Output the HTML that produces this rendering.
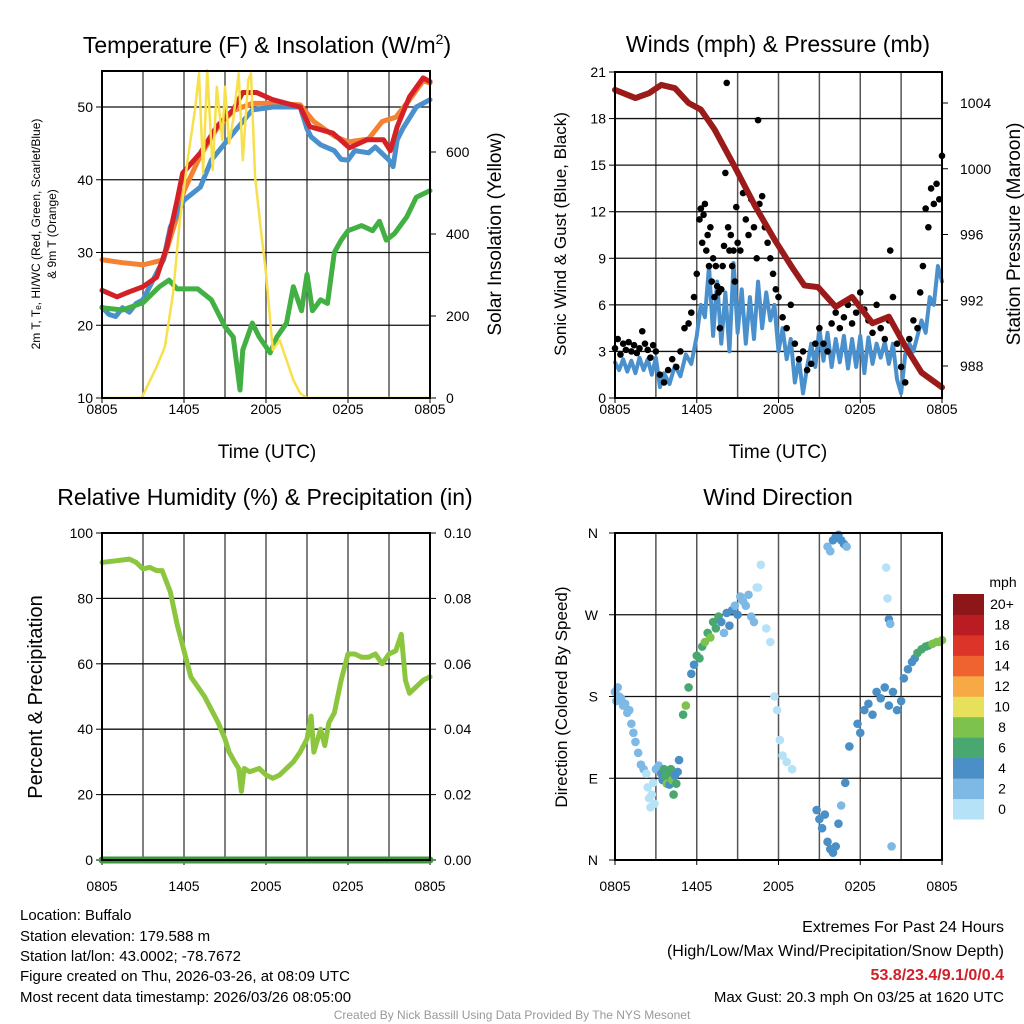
<!DOCTYPE html>
<html><head><meta charset="utf-8"><style>
body{margin:0;background:#fff;width:1024px;height:1024px;overflow:hidden;font-family:"Liberation Sans",sans-serif}
svg{position:absolute;left:0;top:0}
.t{position:absolute;font-size:15px;color:#000;white-space:nowrap}
</style></head><body>
<svg id="s" width="1024" height="1024" xmlns="http://www.w3.org/2000/svg" font-family="Liberation Sans, sans-serif"></svg>
<div class="t" style="left:20px;top:907px">Location: Buffalo</div>
<div class="t" style="left:20px;top:928px">Station elevation: 179.588 m</div>
<div class="t" style="left:20px;top:948px">Station lat/lon: 43.0002; -78.7672</div>
<div class="t" style="left:20px;top:968px">Figure created on Thu, 2026-03-26, at 08:09 UTC</div>
<div class="t" style="left:20px;top:989px">Most recent data timestamp: 2026/03/26 08:05:00</div>
<div class="t" style="right:20px;top:919px;font-size:16px">Extremes For Past 24 Hours</div>
<div class="t" style="right:20px;top:943px;font-size:16px">(High/Low/Max Wind/Precipitation/Snow Depth)</div>
<div class="t" style="right:20px;top:967px;font-size:16px;color:#d0202a;font-weight:bold">53.8/23.4/9.1/0/0.4</div>
<div class="t" style="right:20px;top:989px">Max Gust: 20.3 mph On 03/25 at 1620 UTC</div>
<div class="t" style="left:0;width:1024px;text-align:center;top:1008px;font-size:12px;color:#999">Created By Nick Bassill Using Data Provided By The NYS Mesonet</div>
<script>
// ---- data (hours since 0805 UTC) ----
const timeTicks=["0805","1405","2005","0205","0805"];
const tempT=[0,1.1,2,3,4,4.75,5.5,5.9,7.2,8.4,9.6,10.3,11.3,12.5,14.5,15.2,16.9,18.1,19.4,20.6,21.1,21.6,22.5,23.5,24];
const tempV=[24.8,23.9,24.6,25.3,26.6,30.8,37.2,40.9,43.7,47.3,49.6,52,52,51,50,47.3,46.4,44.4,45.5,45.5,44,47.3,51.4,54,53.5];
const t9T=[0,1.5,3,4.5,5.5,6,7.2,8.4,9.6,11,12.5,14.5,15.5,17,18,19.5,20.5,21.5,22.5,23.5,24];
const t9V=[29,28.6,28.3,29,35,38.5,43.3,47,49.5,50.5,50.5,50.3,48,46,45.2,45.6,48,48.6,51,53.6,53.3];
const hiT=[0,0.5,1,1.5,2,2.5,3,4,4.5,5,6,7.2,8,9.6,11,12.5,14.5,15,15.3,16,17,17.5,18,18.5,19.5,20,21,21.3,21.6,22,23,24];
const hiV=[22.5,21.5,21.2,22.4,21.8,23,23.5,27.2,29,33.5,37.2,39,42.7,46.4,49.6,50,50,47,45.9,44.8,44,42.8,42.7,44,43.7,44.5,42.7,41.8,45.5,47,50,51];
const tdT=[0,1.5,3,4.2,4.9,5.5,7,8,9,9.6,10.1,10.3,11,11.5,12.3,12.8,13.5,14,14.6,15,15.4,16,16.5,17,17.5,18,19,19.8,20.3,20.8,21.4,22.3,23,24];
const tdV=[22.4,22.1,23.1,25.3,26.2,25,25,23.5,19.8,18.4,11.1,16.6,20.3,18.4,16.2,18.4,20.3,25.3,22,27,22,23.5,23,30,31.7,33,33.7,33,34.3,31.7,32.6,34.9,37.6,38.5];
const solT=[0,2.9,4,4.6,5.2,5.7,6.3,6.8,7.1,7.4,7.7,8.1,8.4,8.8,9,9.3,9.6,10,10.3,10.7,10.9,11.2,11.6,12,12.5,13,13.5,14,14.5,15,24];
const solV=[0,0,76,125,255,434,589,702,792,548,800,556,759,629,759,621,678,792,580,776,792,540,418,304,117,141,93,44,12,0,0];
const presT=[0,1.5,2.5,3.4,4.4,5.4,6.3,7.3,8.8,10.3,11.7,13,13.9,14.9,16.2,17.4,18.9,20.1,21.3,22.5,24];
const presV=[1004.8,1004.3,1004.6,1005.1,1004.9,1004,1003.6,1002.4,1000.1,997.7,995.7,994,992.9,992.8,991.6,992.2,990.6,991,989.2,987.6,986.7];
const windT=[0,0.3,0.6,0.9,1.2,1.5,1.8,2.1,2.4,2.7,3,3.3,3.6,4,4.4,4.8,5.2,5.6,6,6.3,6.6,6.9,7.2,7.5,7.8,8.1,8.4,8.7,9,9.3,9.6,9.9,10.2,10.5,10.8,11.1,11.4,11.7,12,12.3,12.6,12.9,13.2,13.5,13.8,14.1,14.4,14.7,15,15.3,15.6,15.9,16.2,16.5,16.8,17.1,17.4,17.7,18,18.3,18.6,18.9,19.2,19.5,19.8,20.1,20.4,20.7,21,21.3,21.6,21.9,22.2,22.5,22.8,23.1,23.4,23.7,24];
const windV=[2.3,1.8,2.5,1.7,2.4,1.6,2.6,1.8,2.5,1.5,2.6,0.7,1.6,0.9,2.1,1.4,2.8,2.2,4,6,5.2,8.5,4,7.5,3.5,6.8,3,8.7,4.2,7,3.5,6.5,3.8,7.5,4.5,6.8,5,6,3,4.5,2.5,3.8,1,2.5,0.3,2,3.5,2,4.5,2.4,4.2,2,3.8,2.3,4,1.9,3.8,2,4,1.6,3.9,2.2,3.5,2.6,3.6,2.2,3.5,1.2,0.3,2.8,3.5,3,4,5,4.2,6.5,6,8.5,7.5];
const gustT=[
0,0.2,0.4,0.6,0.8,1,1.2,1.4,1.6,1.8,
2,2.2,2.4,2.6,2.8,3,3.3,3.6,3.9,4.2,
4.5,4.8,5.1,5.4,5.6,5.8,6,6.2,6.3,6.4,
6.5,6.6,6.7,6.8,6.9,7,7.1,7.2,7.3,7.4,
7.5,7.6,7.7,7.8,7.9,8,8.1,8.2,8.3,8.4,
8.5,8.6,8.7,8.8,8.9,9,9.2,9.4,9.6,9.8,
10,10.2,10.4,10.5,10.6,10.8,11,11.2,11.4,11.6,
11.8,12,12.3,12.6,12.9,13.2,13.5,13.8,14.1,14.4,
14.7,15,15.3,15.6,15.9,16.2,16.5,16.8,17.1,17.4,
17.7,18,18.3,18.6,18.9,19.2,19.5,19.8,20.1,20.2,
20.4,20.7,21,21.3,21.6,21.9,22.2,22.4,22.6,22.8,
23,23.2,23.4,23.6,23.8,24];
const gustV=[
3.2,3.8,2.8,3.5,3.1,3.6,3,3.4,2.9,3.2,
4.3,3.5,3.1,2.6,3.4,3,1.5,1,1.8,2.5,
2,3,4.5,4.8,5.5,6.5,8,11.5,12.2,10,
11.8,12.5,9.5,10.5,8.5,11,7.5,9,6.5,8.5,
7.2,6.8,4.5,7,8.5,9.8,14.5,20.3,11,9.5,
10.5,8.5,9.5,7.5,12.3,10,9.5,13.2,11.5,10.5,
12.8,11,9,17.9,12.5,13,11,10,9,8,
7,6.5,5.2,4.5,6,3.5,2.5,3,1.8,2.2,
3.5,4.5,3.5,3,4.8,5.5,4.5,5.2,6,4.8,
5.5,6.8,5.7,5,4.2,6,4.5,3.8,5,9.5,
6.5,3.5,2,1,3.8,5,4.5,6.8,8.5,12.2,
11,13.5,12.5,13.8,12.8,15.6];
const rhT=[0,1,2,2.5,3,3.5,4,4.4,5,5.5,6,6.5,7,7.5,8,8.5,9,9.3,9.7,10,10.2,10.4,10.8,11.5,12,12.5,13,13.5,14,14.5,15,15.3,15.5,16,16.3,16.6,17,17.5,18,18.5,19,19.5,20,20.5,21,21.5,21.9,22.2,22.5,23,23.5,24];
const rhV=[91,91.5,92,91,89,89.5,88.5,88.5,82,72,64,56,53,50,46,42,37,33,30,28,21,28,27,28,26,25,26,28,30,33,37,44,33,40,35,42,45,55,63,63,62,62,63,60,63,64,69,55,51,53,55,56];
const dirT=[
0,0.1,0.2,0.3,0.45,0.6,0.75,0.9,1.05,1.2,1.35,1.5,
1.7,1.9,2.1,2.3,2.4,2.5,2.6,2.7,2.8,2.9,3.0,3.2,
3.4,3.5,3.6,3.7,3.8,3.9,4.0,4.1,4.2,4.3,4.4,4.5,4.6,4.7,
5.0,5.2,5.4,5.6,5.8,6.0,6.2,6.4,6.6,6.8,7.0,7.2,7.4,7.6,
7.8,8.0,8.2,8.4,8.6,8.8,9.0,9.2,9.4,9.6,9.8,10.0,10.2,10.4,
10.5,10.7,11.1,11.4,11.7,11.9,12.1,12.3,12.6,13.0,
14.8,15.0,15.2,15.4,15.6,15.8,16.0,16.2,16.4,16.6,16.9,17.2,
15.6,15.8,16.0,16.2,16.4,16.6,16.8,17.0,
17.8,18.0,18.3,18.6,18.9,19.2,19.5,19.8,20.1,20.4,20.7,21.0,
19.9,20.0,20.1,20.2,20.3,
21.2,21.5,21.8,22.0,22.2,22.5,22.8,23.0,23.3,23.6,23.8,24.0];
const dirD=[
185,175,190,180,178,170,172,162,165,150,140,130,
118,105,100,95,80,68,58,72,85,62,100,104,
95,88,100,92,84,96,83,100,88,72,93,84,97,110,
160,170,190,205,215,225,222,235,240,250,245,262,255,268,
262,250,272,258,275,280,270,290,285,280,292,268,262,300,
300,325,255,240,180,165,132,115,108,100,
55,45,35,50,20,12,8,15,40,60,85,125,
345,340,352,356,358,352,348,345,
150,140,165,172,160,185,178,190,170,185,165,175,
322,288,265,260,15,
200,210,218,222,228,232,235,236,238,240,240,242];
const dirS=[
3,2,3,2,2,3,2,3,2,3,2,3,
2,3,2,1,1,1,1,1,1,1,2,2,
5,4,6,7,8,7,5,6,9,7,5,6,5,4,
7,8,6,5,4,7,7,6,8,7,9,7,6,7,
5,3,5,4,5,3,5,3,3,3,2,3,2,1,
1,1,1,1,1,1,1,1,1,1,
4,5,4,5,5,5,4,5,5,3,5,4,
3,3,4,5,5,5,4,3,
5,4,5,5,5,4,5,5,5,4,5,4,
1,1,4,3,2,
4,5,5,5,6,6,7,7,8,8,8,8];
const cbLabels=["0","2","4","6","8","10","12","14","16","18","20+"];
const cbColors=["#b5e2f7","#7db9e4","#4a8fc6","#49a870","#7cc24c","#e6e05a","#f7a946","#ee6330","#dc3429","#b91c23","#8d1619"];

const NS="http://www.w3.org/2000/svg",S=document.getElementById('s');
function el(t,a,p){const e=document.createElementNS(NS,t);for(const k in a)e.setAttribute(k,a[k]);(p||S).appendChild(e);return e;}
function txt(x,y,s,size,anchor,rot,nm){const e=el('text',{x:x,y:y,'font-size':size,'text-anchor':anchor||'middle',fill:'#000'});if(rot)e.setAttribute('transform','rotate(-90 '+x+' '+y+')');e.textContent=s;


return e;}
function lin(a,b,c,d){return (v)=>c+(v-a)/(b-a)*(d-c);}
function grid(P,off){
  const xs=lin(0,24,P.x0,P.x1);
  for(let h=3;h<24;h+=3){const g=el('line',{x1:xs(h),x2:xs(h),y1:P.y0,y2:P.y1,stroke:'#555','stroke-width':1.5});
  
  }
  for(let i=0;i<timeTicks.length;i++){const x=xs(i*6);el('line',{x1:x,x2:x,y1:P.y1,y2:P.y1+5,stroke:'#000'});txt(x,P.y1+off,timeTicks[i],14,'middle',0,'x-tick-label');}
}
function frame(P){const r=el('rect',{x:P.x0,y:P.y0,width:P.x1-P.x0,height:P.y1-P.y0,fill:'none',stroke:'#000','stroke-width':2});

}
function hline(P,y){const g=el('line',{x1:P.x0,x2:P.x1,y1:y,y2:y,stroke:'#111','stroke-width':1.3});

}
function poly(T,V,xs,ys,col,w,nm){const p=el('polyline',{points:T.map((t,i)=>xs(t)+','+ys(V[i])).join(' '),fill:'none',stroke:col,'stroke-width':w,'stroke-linejoin':'round','stroke-linecap':'round'});

}

// Panel 1
let P={x0:102,x1:430,y0:71,y1:398};
let xs=lin(0,24,P.x0,P.x1),ys=lin(10,55,P.y1,P.y1-45*7.275),ys2=lin(0,800,P.y1,P.y1-800*0.41);
grid(P,16);
[10,20,30,40,50].forEach(v=>{if(v>10)hline(P,ys(v));el('line',{x1:P.x0-6,x2:P.x0,y1:ys(v),y2:ys(v),stroke:'#000'});txt(P.x0-9,ys(v)+5,String(v),14,'end',0,'y-tick-label');});
[0,200,400,600].forEach(v=>{el('line',{x1:P.x1,x2:P.x1+6,y1:ys2(v),y2:ys2(v),stroke:'#000'});txt(P.x1+16,ys2(v)+5,String(v),14,'start',0,'y2-tick-label');});
poly(t9T,t9V,xs,ys,'#f58232',5,'orange-9m-temp-line');
poly(hiT,hiV,xs,ys,'#4a90cc',5,'blue-hi-wc-line');
poly(tempT,tempV,xs,ys,'#d42027',5,'red-2m-temp-line');
poly(tdT,tdV,xs,ys,'#43b043',5,'green-dewpoint-line');
poly(solT,solV,xs,ys2,'#f7e04a',2.5,'yellow-insolation-line');
frame(P);
const t1=txt(267,53,'Temperature (F) & Insolation (W/m',23,'middle',0,'temp-panel-title');const sp=el('tspan',{dy:-9,'font-size':14},t1);sp.textContent='2';const sp2=el('tspan',{dy:9},t1);sp2.textContent=')';
txt(267,458,'Time (UTC)',19,'middle',0,'x-axis-title');
txt(40,234,'2m T, T\u2091, HI/WC (Red, Green, Scarlet/Blue)',12,'middle',1,'temp-y-axis-title');
txt(56,234,'& 9m T (Orange)',12,'middle',1,'temp-y-axis-title-2');
txt(501,234,'Solar Insolation (Yellow)',19,'middle',1,'insolation-y-axis-title');

// Panel 2
P={x0:615,x1:942,y0:72,y1:398};
xs=lin(0,24,P.x0,P.x1);ys=lin(0,21,P.y1,P.y0);ys2=lin(988,1004,366,103);
grid(P,16);
for(let v=0;v<=21;v+=3){if(v>0&&v<21)hline(P,ys(v));el('line',{x1:P.x0-6,x2:P.x0,y1:ys(v),y2:ys(v),stroke:'#000'});txt(P.x0-9,ys(v)+5,String(v),14,'end',0,'wind-tick-label');}
[988,992,996,1000,1004].forEach(v=>{el('line',{x1:P.x1,x2:P.x1+6,y1:ys2(v),y2:ys2(v),stroke:'#000'});txt(P.x1+18,ys2(v)+5,String(v),14,'start',0,'pressure-tick-label');});
poly(windT,windV,xs,ys,'#4a90cc',4,'sonic-wind-line');
gustT.forEach((t,i)=>{const c=el('circle',{cx:xs(t),cy:ys(gustV[i]),r:3.3,fill:'#000'});

});
poly(presT,presV,xs,ys2,'#9b1b1b',6,'pressure-line');
frame(P);
txt(778,52,'Winds (mph) & Pressure (mb)',23,'middle',0,'wind-panel-title');
txt(778,458,'Time (UTC)',19,'middle',0,'x-axis-title-2');
txt(566,234,'Sonic Wind & Gust (Blue, Black)',17,'middle',1,'wind-y-axis-title');
txt(1020,234,'Station Pressure (Maroon)',19,'middle',1,'pressure-y-axis-title');

// Panel 3
P={x0:102,x1:430,y0:533,y1:860};
xs=lin(0,24,P.x0,P.x1);ys=lin(0,100,P.y1,P.y0);
grid(P,31);
for(let v=0;v<=100;v+=20){if(v>0&&v<100)hline(P,ys(v));el('line',{x1:P.x0-6,x2:P.x0,y1:ys(v),y2:ys(v),stroke:'#000'});txt(P.x0-9,ys(v)+5,String(v),14,'end',0,'rh-tick-label');el('line',{x1:P.x1,x2:P.x1+6,y1:ys(v),y2:ys(v),stroke:'#000'});txt(P.x1+14,ys(v)+5,(v/1000).toFixed(2),14,'start',0,'precip-tick-label');}
poly(rhT,rhV,xs,ys,'#8cc63f',5,'rh-line');
poly([0,24],[0,0],xs,ys,'#3a9a3a',7,'precip-line');
frame(P);
txt(265,505,'Relative Humidity (%) & Precipitation (in)',23,'middle',0,'rh-panel-title');
txt(42,697,'Percent & Precipitation',20,'middle',1,'rh-y-axis-title');

// Panel 4
P={x0:615,x1:942,y0:533,y1:860};
xs=lin(0,24,P.x0,P.x1);ys=lin(0,360,P.y1,P.y0);
grid(P,31);
["N","E","S","W","N"].forEach((l,i)=>{const v=i*90;if(i>0&&i<4)hline(P,ys(v));el('line',{x1:P.x0-6,x2:P.x0,y1:ys(v),y2:ys(v),stroke:'#000'});txt(P.x0-17,ys(v)+5,l,14,'end',0,'direction-tick-label');});
dirT.forEach((t,i)=>{const s=dirS[i];const c=el('circle',{cx:xs(t),cy:ys(dirD[i]),r:4.3,fill:cbColors[Math.min(10,Math.floor(s/2))]});

});
frame(P);
txt(778,505,'Wind Direction',23,'middle',0,'direction-panel-title');
txt(567,697,'Direction (Colored By Speed)',17,'middle',1,'direction-y-axis-title');
const cbTop=594,cbH=225/11;
cbColors.forEach((c,i)=>{const r=el('rect',{x:953,y:cbTop+(10-i)*cbH,width:31,height:cbH+0.5,fill:c});


txt(1002,cbTop+(10-i)*cbH+cbH/2+5,cbLabels[i],14,'middle',0,'colorbar-label');});
txt(1003,587,'mph',14,'middle',0,'colorbar-title');
</script>
</body></html>
